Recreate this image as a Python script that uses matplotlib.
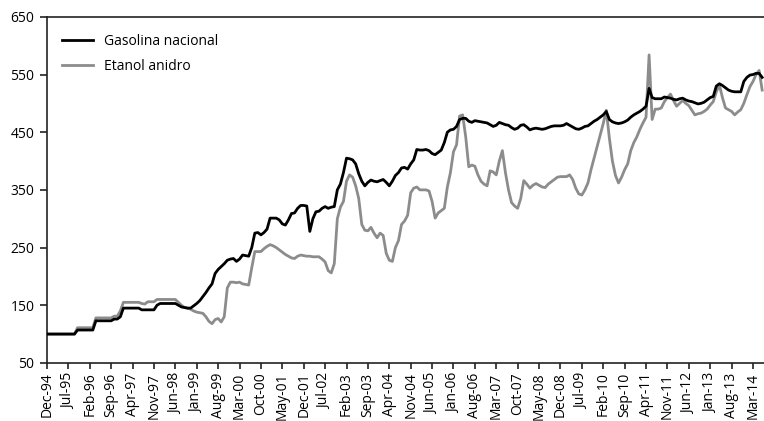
import numpy as np
import pandas as pd
import matplotlib
matplotlib.use("Agg")
import matplotlib.pyplot as plt

# ── dados mensais: Dez-94 a Jun-14 ─────────────────────────
gasolina = [
    100, 100, 100, 100, 100, 100, 100, 100, 100, 100, 107, 107, 107,        # dez-94 .. dez-95
    107, 107, 107, 123, 123, 123, 123, 123, 123, 126, 126, 130,             # 1996
    145, 145, 145, 145, 145, 145, 142, 142, 142, 142, 142, 150,             # 1997
    153, 153, 153, 153, 153, 153, 150, 147, 146, 145, 145, 149,             # 1998
    153, 158, 165, 172, 180, 187, 205, 212, 217, 222, 228, 230,             # 1999
    231, 226, 230, 237, 236, 235, 250, 275, 276, 272, 276, 282,             # 2000
    301, 301, 301, 298, 291, 289, 298, 309, 310, 318, 323, 323,             # 2001
    322, 278, 300, 312, 313, 318, 321, 318, 320, 321, 350, 360,             # 2002
    380, 405, 404, 402, 395, 378, 365, 357, 363, 367, 365, 364,             # 2003
    366, 368, 363, 357, 365, 375, 380, 388, 389, 386, 395, 402,             # 2004
    420, 419, 419, 420, 418, 413, 411, 415, 419, 432, 450, 454,             # 2005
    455, 460, 472, 474, 474, 469, 467, 470, 469, 468, 467, 466,             # 2006
    463, 460, 462, 467, 465, 463, 462, 458, 455, 457, 462, 463,             # 2007
    459, 454, 456, 457, 456, 455, 456, 458, 460, 461, 461, 461,             # 2008
    462, 465, 462, 459, 456, 455, 457, 460, 461, 465, 469, 472,             # 2009
    476, 480, 486, 472, 468, 466, 465, 466, 468, 471, 476, 480,             # 2010
    483, 486, 490, 495, 526, 510, 508, 508, 508, 511, 510, 509,             # 2011
    507, 506, 508, 509, 506, 504, 503, 501, 499, 500, 502, 506,             # 2012
    510, 512, 530, 534, 531, 527, 523, 521, 520, 520, 520, 538,             # 2013
    545, 549, 550, 552, 552, 545,                                           # 2014
]

etanol = [
    100, 100, 100, 100, 100, 100, 100, 100, 100, 100, 111, 111, 111,
    111, 111, 111, 128, 128, 128, 128, 128, 128, 131, 131, 140,
    155, 155, 155, 155, 155, 155, 153, 152, 156, 156, 156, 160,
    160, 160, 160, 160, 160, 160, 155, 150, 146, 145, 143, 140,
    138, 137, 136, 130, 122, 118, 125, 127, 121, 130, 180, 190,
    190, 189, 190, 187, 186, 185, 215, 243, 243, 243, 248, 252,
    255, 253, 250, 246, 242, 238, 235, 232, 231, 235, 237, 236,
    235, 235, 234, 234, 234, 230, 225, 210, 206, 222, 300, 320,
    330, 365, 376, 372, 357, 335, 290, 280, 279, 285, 275, 267,
    275, 271, 240, 228, 226, 250, 262, 290, 296, 306, 345, 353,
    355, 350, 350, 350, 348, 330, 301, 310, 314, 318, 355, 380,
    416, 428, 478, 480, 442, 390, 393, 391, 376, 365, 360, 357,
    383, 381, 376, 400, 418, 380, 350, 328, 322, 318, 335, 366,
    360, 353, 358, 361, 358, 355, 354, 360, 364, 368, 372, 373,
    373, 373, 376, 368, 353, 343, 341, 350, 362, 385, 405, 425,
    445, 465, 488, 440, 400, 375, 362, 372, 385, 395, 418, 432,
    442, 455, 466, 476, 584, 472, 490, 490, 492, 503, 510, 516,
    505, 495, 500, 505, 500, 496, 488, 480, 482, 483, 486, 490,
    497, 503, 520, 532, 510, 492, 489, 486, 480, 485, 489, 500,
    515, 529, 538, 550, 557, 523,
]

assert len(gasolina) == len(etanol) == 235, (len(gasolina), len(etanol))

meses = pd.date_range("1994-12-01", periods=len(gasolina), freq="MS")
ticks_pos = list(range(0, len(meses), 7))
ticks_lab = [meses[i].strftime("%b-%y") for i in ticks_pos]

plt.rcParams["font.family"] = ["Open Sans", "DejaVu Sans"]

fig = plt.figure(figsize=(7.64, 4.21), dpi=100)
ax = fig.add_axes([0.0615, 0.138, 0.9385, 0.822])

x = np.arange(len(gasolina))
ax.plot(x, gasolina, color="black", linewidth=2.0, label="Gasolina nacional", zorder=3)
ax.plot(x, etanol, color="#8c8c8c", linewidth=2.0, label="Etanol anidro", zorder=2)

ax.set_xlim(0, 234.6)
ax.set_ylim(50, 650)
ax.set_yticks(range(50, 651, 100))
ax.set_xticks(ticks_pos)
ax.set_xticklabels(ticks_lab, rotation=90)

for s in ["left", "bottom", "top"]:
    ax.spines[s].set_linewidth(1.2)
    ax.spines[s].set_color("#222222")
ax.spines["right"].set_visible(False)
ax.tick_params(axis="both", direction="out", width=1.2, color="#222222", labelsize=10)
ax.tick_params(axis="x", length=4, pad=3)
ax.tick_params(axis="y", length=5, pad=4)

ax.legend(loc="upper left", bbox_to_anchor=(15 / 717, 1 - 17 / 346), frameon=False,
          fontsize=10, handlelength=2.2, handletextpad=0.85, borderpad=0,
          borderaxespad=0, labelspacing=0.72)

fig.savefig("out.png", dpi=100)
